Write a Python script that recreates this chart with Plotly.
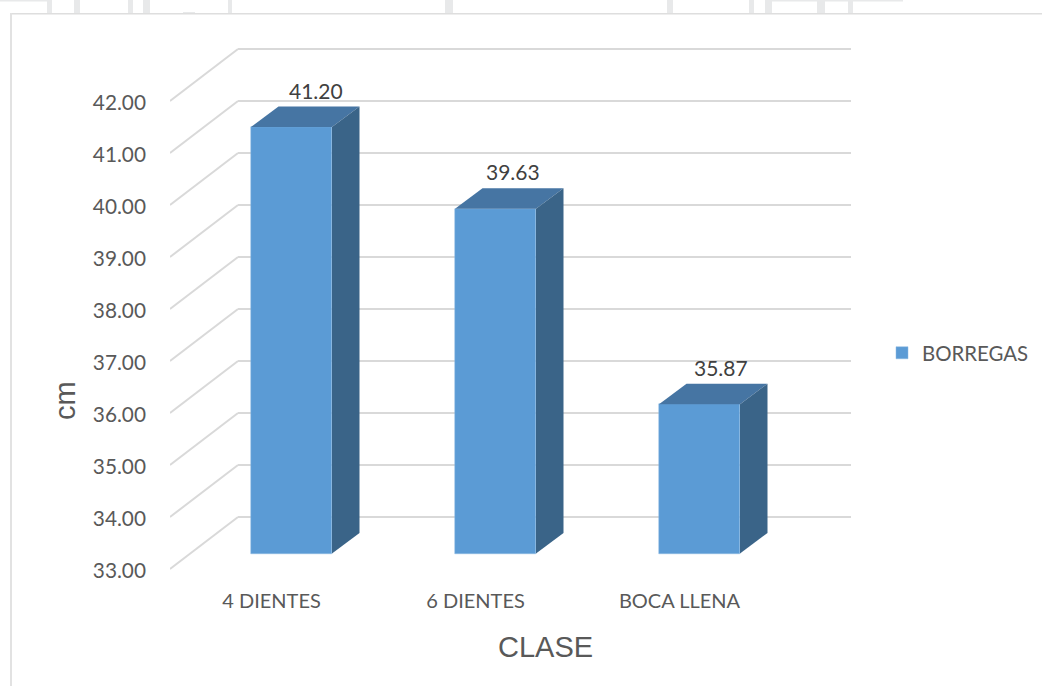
import plotly.graph_objects as go

# Chart data
categories = ["4 DIENTES", "6 DIENTES", "BOCA LLENA"]
values = [41.20, 39.63, 35.87]
value_labels = ["41.20", "39.63", "35.87"]
series_name = "BORREGAS"
y_ticks = [33, 34, 35, 36, 37, 38, 39, 40, 41, 42]

# Page and plot geometry, in pixels
W, H = 1042, 686
PLOT_L, PLOT_R, PLOT_T, PLOT_B = 170, 851, 48, 576
CAT_STEP = 204.0     # pixels between categories
UNIT = 52.0          # pixels per cm
BAR_X0 = 291.5       # pixel centre of the first bar
BAR_BASE_PX = 553.5  # pixel of the bars' base line
BAR_W = 81.0

# Oblique projection offsets (pixels) for the pseudo-3D look
FRONT_DY = 15.5
WALL_DX, WALL_DY = 68.0, 36.5
DEPTH_DX, DEPTH_DY = 27.5, 20.5

x_range = [(PLOT_L - BAR_X0) / CAT_STEP, (PLOT_R - BAR_X0) / CAT_STEP]
y_range = [33 + (BAR_BASE_PX - PLOT_B) / UNIT, 33 + (BAR_BASE_PX - PLOT_T) / UNIT]

dx = lambda px: px / CAT_STEP
dy = lambda px: px / UNIT
positions = list(range(len(categories)))
half = dx(BAR_W) / 2

FRONT = "#5B9BD5"
TOP = "#4675A3"
SIDE = "#3A6488"
GRID = "#D9D9D9"
TEXT = "#595959"
LABEL = "#404040"
BODY_FONT = "Lato"

fig = go.Figure()

# Front faces
fig.add_trace(go.Bar(
    x=positions, y=[v - 33 for v in values], base=33, width=dx(BAR_W),
    marker=dict(color=FRONT, line=dict(color="#8DB9E2", width=0.5)),
    name=series_name, showlegend=True, hoverinfo="skip",
))

# Top and side faces of each bar
for p, v in zip(positions, values):
    l, r = p - half, p + half
    ox, oy = dx(DEPTH_DX), dy(DEPTH_DY)
    fig.add_trace(go.Scatter(
        x=[l, r, r + ox, l + ox, l], y=[v, v, v + oy, v + oy, v],
        mode="lines", fill="toself", fillcolor=TOP, line=dict(width=0),
        showlegend=False, hoverinfo="skip",
    ))
    fig.add_trace(go.Scatter(
        x=[r, r + ox, r + ox, r, r], y=[33, 33 + oy, v + oy, v, 33],
        mode="lines", fill="toself", fillcolor=SIDE, line=dict(width=0),
        showlegend=False, hoverinfo="skip",
    ))

shapes = []

# Back-wall gridlines and the diagonals that run to the front edge
wall_x0 = x_range[0] + dx(WALL_DX)
for t in y_ticks:
    back = t + dy(WALL_DY)
    front = t - dy(FRONT_DY)
    line = dict(color=GRID, width=2)
    shapes.append(dict(type="line", xref="x", yref="y", layer="below",
                       x0=wall_x0, x1=x_range[1], y0=back, y1=back, line=line))
    shapes.append(dict(type="line", xref="x", yref="y", layer="below",
                       x0=x_range[0], x1=wall_x0, y0=front, y1=back, line=line))


def page_rect(x0, y0, x1, y1, color):
    return dict(type="rect", xref="paper", yref="paper", layer="below",
                x0=x0 / W, x1=x1 / W, y0=1 - y0 / H, y1=1 - y1 / H,
                fillcolor=color, line=dict(width=0))


# Chart frame
shapes.append(page_rect(10, 13, W, 14.5, "#DEDEDE"))
shapes.append(page_rect(10, 13, 12, H, "#E2E2E2"))

# Table rules showing above the chart frame
RULE = "#E8E9EA"
for x0, x1 in [(47, 52), (74, 80), (128, 133), (143, 150), (228, 232),
               (445, 453), (667, 673), (749, 754), (765, 772), (817, 825), (848, 853)]:
    shapes.append(page_rect(x0, 0, x1, 13, RULE))
shapes.append(page_rect(0, 0, 48, 1.5, RULE))
shapes.append(page_rect(765, 0, 903, 1.5, RULE))
shapes.append(page_rect(183, 12, 195, 13, RULE))

# Value labels sit above each bar, nudged toward its depth face
label_dx = [24.5, 17.5, 21.5]
annotations = [
    dict(x=p + dx(off), y=v, xref="x", yref="y", text=lbl, showarrow=False,
         yshift=37, xanchor="center", yanchor="middle",
         font=dict(family=BODY_FONT, size=21, color=LABEL))
    for p, v, lbl, off in zip(positions, values, value_labels, label_dx)
]
annotations += [
    dict(x=545 / W, y=1 - 647 / H, xref="paper", yref="paper", text="CLASE",
         xanchor="center", yanchor="middle", showarrow=False,
         font=dict(family="Liberation Sans", size=29, color=TEXT)),
    dict(x=65 / W, y=1 - 401 / H, xref="paper", yref="paper", text="cm",
         xanchor="center", yanchor="middle", showarrow=False, textangle=-90,
         font=dict(family="Liberation Sans", size=29, color=TEXT)),
]

fig.update_layout(
    width=W, height=H, autosize=False,
    margin=dict(l=0, r=0, t=0, b=0, autoexpand=False),
    paper_bgcolor="white", plot_bgcolor="rgba(0,0,0,0)",
    shapes=shapes, annotations=annotations,
    bargap=0, showlegend=True,
    legend=dict(x=890 / W, y=1 - 353 / H, xref="paper", yref="paper",
                xanchor="left", yanchor="middle", bgcolor="rgba(0,0,0,0)",
                font=dict(family=BODY_FONT, size=20.4, color=TEXT),
                itemwidth=30, indentation=-8),
    xaxis=dict(
        domain=[PLOT_L / W, PLOT_R / W], range=x_range, showgrid=False,
        zeroline=False, showline=False, ticks="", automargin=False,
        tickmode="array", tickvals=[p - dx(20) for p in positions], ticktext=categories,
        tickfont=dict(family=BODY_FONT, size=20, color=TEXT),
        ticklabelstandoff=11,
    ),
    yaxis=dict(
        domain=[1 - PLOT_B / H, 1 - PLOT_T / H], range=y_range, showgrid=False,
        zeroline=False, showline=False, ticks="", automargin=False,
        tickmode="array", tickvals=[t - dy(FRONT_DY + 2) for t in y_ticks],
        ticktext=[f"{t:.2f}" for t in y_ticks],
        tickfont=dict(family=BODY_FONT, size=20.8, color=TEXT),
        ticklabelstandoff=23,
    ),
)

fig.write_html("out.html", config=dict(displayModeBar=False))
